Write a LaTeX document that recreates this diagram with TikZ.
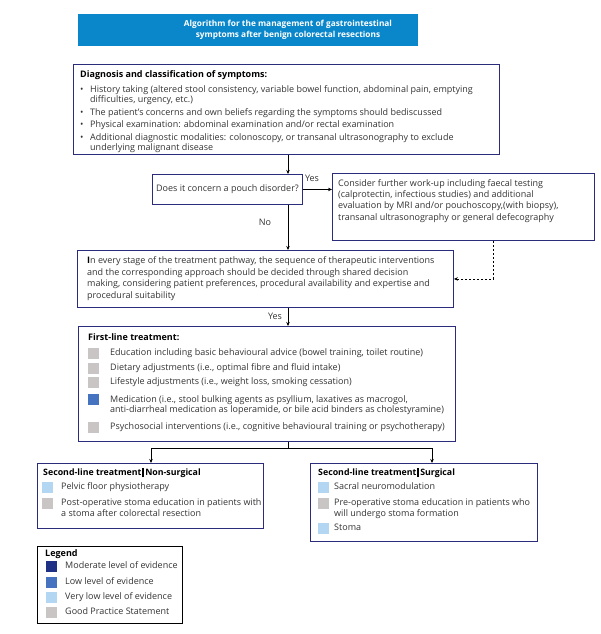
\documentclass[tikz,border=0pt]{standalone}
\usepackage{fontspec}
\setmainfont{Open Sans}
\usetikzlibrary{arrows.meta, positioning}

\definecolor{titleblue}{HTML}{0A87CB}
\definecolor{boxnavy}{HTML}{2B2D7C}
\definecolor{bodygray}{HTML}{333333}
\definecolor{evmod}{HTML}{1F3185}
\definecolor{evlow}{HTML}{4573C0}
\definecolor{evvlow}{HTML}{B3D6F2}
\definecolor{evgps}{HTML}{C9C5C5}

\newcommand{\bul}{\makebox[10pt][l]{\textbullet}}
\newcommand{\ind}{\hspace*{10pt}}
\newcommand{\sepbar}{\hspace{1pt}\rule[-1.5pt]{1.3pt}{9.5pt}\hspace{1.5pt}}

\begin{document}
\begin{tikzpicture}[x=1pt, y=-1pt,
      box/.style={rectangle, draw=boxnavy, line width=0.9pt, anchor=north west, inner sep=0pt},
      txt/.style={anchor=base west, align=left, inner sep=0pt, text=bodygray, font=\fontsize{9}{10.5}\selectfont},
      sq/.style={rectangle, minimum size=11pt, inner sep=0pt, anchor=west},
      arr/.style={-{Stealth[length=4pt, width=3.5pt]}, line width=0.8pt},
      conn/.style={line width=0.8pt}]

      \useasboundingbox (0,0) rectangle (601,634);

      % Title
      \node[fill=titleblue, minimum width=340, minimum height=32, anchor=north west, inner sep=0pt] (titlebar) at (78,14) {};
      \node[align=center, text=white, font=\bfseries\fontsize{8.3}{10.5}\selectfont] (titletext) at (288,30)
        {Algorithm for the management of gastrointestinal\\symptoms after benign colorectal resections};

      % Diagnosis (base anchor = last line)
      \node[box, minimum width=426, minimum height=90] (diag) at (73,64) {};
      \node[txt] (diagtext) at (80,150.5) {\textcolor{black}{\textbf{Diagnosis and classification of symptoms:}}\\[4.5pt]
        \bul History taking (altered stool consistency, variable bowel function, abdominal pain, emptying\\
        \ind difficulties, urgency, etc.)\\[2pt]
        \bul The patient's concerns and own beliefs regarding the symptoms should bediscussed\\[2pt]
        \bul Physical examination: abdominal examination and/or rectal examination\\[2pt]
        \bul Additional diagnostic modalities: colonoscopy, or transanal ultrasonography to exclude\\
        \ind underlying malignant disease};

      % Pouch question and work-up
      \node[box, minimum width=150, minimum height=30, text=bodygray, font=\fontsize{9}{10.5}\selectfont] (pouch) at (152,174) {Does it concern a pouch disorder?};
      \node[box, minimum width=262, minimum height=67] (workup) at (332,173) {};
      \node[txt, font=\fontsize{9}{11.2}\selectfont] (workuptext) at (338,220) {Consider further work-up including faecal testing\\
        (calprotectin, infectious studies) and additional\\
        evaluation by MRI and/or pouchoscopy,(with biopsy),\\
        transanal ultrasonography or general defecography};

      % Shared decision making
      \node[box, minimum width=376, minimum height=57] (shared) at (77,250) {};
      \node[txt, font=\fontsize{9}{11.5}\selectfont] (sharedtext) at (87,298) {\textcolor{black}{\textbf{I}}n every stage of the treatment pathway, the sequence of therapeutic interventions\\
        and the corresponding approach should be decided through shared decision\\
        making, considering patient preferences, procedural availability and expertise and\\
        procedural suitability};

      % First-line treatment
      \node[box, minimum width=377, minimum height=115] (first) at (78,326) {};
      \node[txt] (firsttitle) at (88,340.5) {\textcolor{black}{\textbf{First-line treatment:}}};
      \foreach \y/\n/\c/\t [count=\i] in {353/0/evgps/{Education including basic behavioural advice (bowel training, toilet routine)},
          368/0/evgps/{Dietary adjustments (i.e., optimal fibre and fluid intake)},
          382/0/evgps/{Lifestyle adjustments (i.e., weight loss, smoking cessation)},
          399.5/1/evlow/{Medication (i.e., stool bulking agents as psyllium, laxatives as macrogol,\\anti-diarrheal medication as loperamide, or bile acid binders as cholestyramine)},
          427/0/evgps/{Psychosocial interventions (i.e., cognitive behavioural training or psychotherapy)}} {
        \node[sq, fill=\c] (firstsq\i) at (88,\y) {};
        \node[txt] (firstitem\i) at (110,\y+2.7+\n*10.5) {\t};
      }

      % Second-line treatment
      \node[box, minimum width=226, minimum height=65] (nonsurg) at (37,463) {};
      \node[txt, font=\fontsize{8.8}{10.5}\selectfont] (nonsurgtitle) at (43,475.5) {\textcolor{black}{\textbf{Second-line treatment}\sepbar\textbf{Non-surgical}}};
      \foreach \y/\n/\c/\t [count=\i] in {487/0/evvlow/{Pelvic floor physiotherapy},
          503/1/evgps/{Post-operative stoma education in patients with\\a stoma after colorectal resection}} {
        \node[sq, fill=\c] (nonsurgsq\i) at (42,\y) {};
        \node[txt] (nonsurgitem\i) at (61,\y+2.7+\n*10.5) {\t};
      }

      \node[box, minimum width=227, minimum height=78] (surg) at (310,463) {};
      \node[txt, font=\fontsize{8.8}{10.5}\selectfont] (surgtitle) at (318,475.5) {\textcolor{black}{\textbf{Second-line treatment}\sepbar\textbf{Surgical}}};
      \foreach \y/\n/\c/\t [count=\i] in {487/0/evvlow/{Sacral neuromodulation},
          503/1/evgps/{Pre-operative stoma education in patients who\\will undergo stoma formation},
          528/0/evvlow/{Stoma}} {
        \node[sq, fill=\c] (surgsq\i) at (318,\y) {};
        \node[txt] (surgitem\i) at (334,\y+2.7+\n*10.5) {\t};
      }

      % Legend
      \node[box, draw=black, line width=0.8pt, minimum width=145, minimum height=77] (legend) at (37,546) {};
      \node[txt] (legendtitle) at (45,556.5) {\textcolor{black}{\textbf{Legend}}};
      \foreach \y/\c/\t [count=\i] in {566/evmod/{Moderate level of evidence}, 582/evlow/{Low level of evidence},
          597/evvlow/{Very low level of evidence}, 612/evgps/{Good Practice Statement}} {
        \node[sq, fill=\c] (legendsq\i) at (46,\y) {};
        \node[txt] (legenditem\i) at (65,\y+2.7) {\t};
      }

      % Connectors
      \coordinate (trunk) at (288,0);
      \coordinate (dashx) at (493,0);
      \coordinate (split) at (288,448);
      \coordinate (leftdrop) at (151,448);
      \coordinate (rightdrop) at (432,448);
      \draw[arr] (diag.south -| trunk) -- (pouch.north -| trunk);
      \draw[arr] (pouch.east) -- (workup.west |- pouch.east);
      \draw[arr] (pouch.south -| trunk) -- (shared.north -| trunk);
      \draw[arr, dash pattern=on 2.5pt off 1.5pt, line width=0.6pt] (workup.south -| dashx) |- (shared.east);
      \draw[arr] (shared.south -| trunk) -- (first.north -| trunk);
      \draw[conn] (first.south -| split) -- (split);
      \draw[arr] (split) -- (leftdrop) -- (nonsurg.north -| leftdrop);
      \draw[arr] (split) -- (rightdrop) -- (surg.north -| rightdrop);

      % Labels
      \node[txt, anchor=center] (yesone) at (312,178) {Yes};
      \node[txt, anchor=center] (nolabel) at (265,222) {No};
      \node[txt, anchor=center] (yestwo) at (275,316) {Yes};
    \end{tikzpicture}
\end{document}
